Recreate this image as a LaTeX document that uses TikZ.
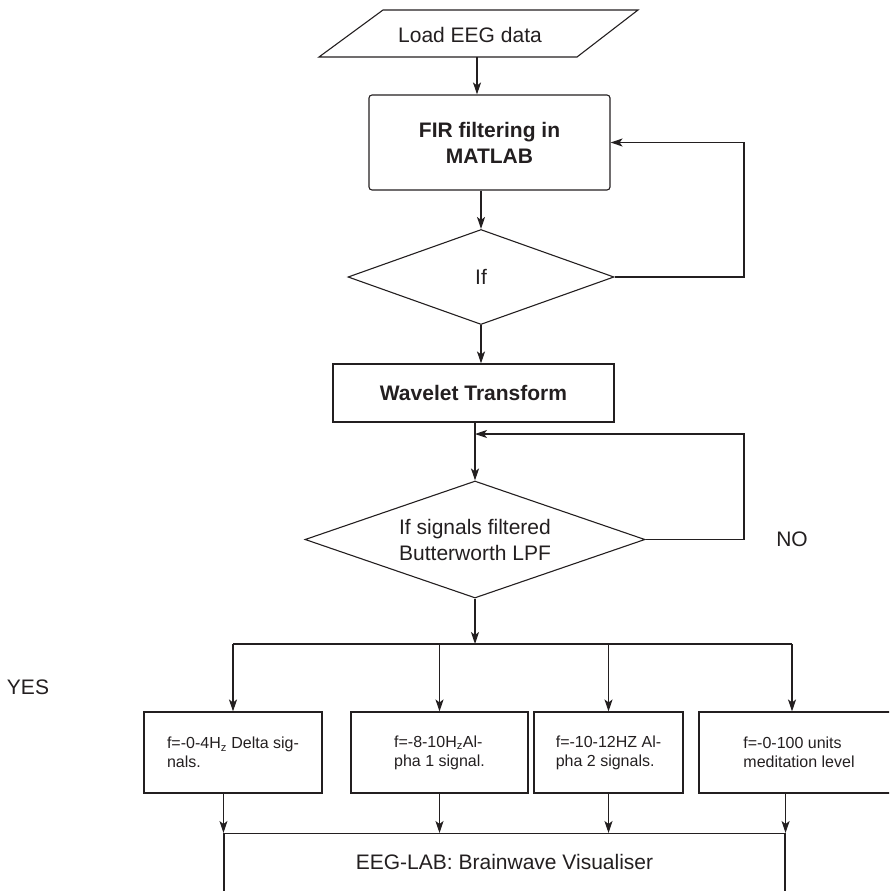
\documentclass[tikz,border=0pt]{standalone}
\usepackage{fontspec}
\setmainfont{Liberation Sans}
\usetikzlibrary{arrows.meta,shapes.geometric}
\definecolor{ink}{HTML}{231F20}
\begin{document}
\begin{tikzpicture}[x=1pt,y=-1pt,
  line/.style={line width=1.1pt,draw=ink},
  arr/.style={line,-{Stealth[length=12pt,width=8pt,inset=3pt]}},
  box/.style={line,rectangle,inner sep=0pt},
  dia/.style={line,diamond,inner sep=0pt},
  big/.style={font=\fontsize{21}{26}\selectfont,text=ink},
  bigb/.style={font=\fontsize{21}{26}\selectfont\bfseries,text=ink},
  small/.style={font=\fontsize{16}{19}\selectfont,align=left,text=ink},
]
\useasboundingbox (0,0) rectangle (889,891);
\clip (0,0) rectangle (889,891);

% input parallelogram
\draw[line] (383,10) -- (638,10) -- (577,57) -- (319,57) -- cycle;
\node[big] (load) at (470,35) {Load EEG data};
\coordinate (loadb) at (477,57);

\node[box,rounded corners=3pt,minimum width=241pt,minimum height=95pt,bigb,align=center] (fir) at (489.5,142.5) {FIR filtering in\\MATLAB};
\node[dia,minimum width=266pt,minimum height=95pt,aspect=2.8,big] (if1) at (481,277) {If};
\node[box,minimum width=281pt,minimum height=58pt,bigb] (wave) at (473.5,393) {Wavelet Transform};
\node[dia,minimum width=340pt,minimum height=117pt,aspect=2.9,big,align=center] (if2) at (475,539.5) {If signals filtered\\Butterworth LPF};

\node[big] (no) at (792,539) {NO};
\node[big] (yes) at (28,687) {YES};

\node[box,minimum width=178pt,minimum height=81pt,small] (b1) at (233,752.5) {f=-0-4H\textsubscript{z} Delta sig-\\nals.};
\node[box,minimum width=177pt,minimum height=81pt,small] (b2) at (439.5,752.5) {f=-8-10H\textsubscript{z}Al-\\pha 1 signal.};
\node[box,minimum width=149pt,minimum height=81pt,small] (b3) at (608.5,752.5) {f=-10-12HZ Al-\\pha 2 signals.};
\node[box,minimum width=200pt,minimum height=81pt,small] (b4) at (799,752.5) {f=-0-100 units\\meditation level};

\node[box,minimum width=561pt,minimum height=80pt,anchor=north] (eeg) at (504.5,833) {};
\node[big] (eegt) at (504.5,862) {EEG-LAB: Brainwave Visualiser};

\coordinate (rx) at (744,0);
\coordinate (j2) at (475,434);
\coordinate (split) at (475,644);
\coordinate (hL) at (233,644);
\coordinate (hR) at (792,644);

\draw[arr] (loadb) -- (loadb |- fir.north);
\draw[arr] (if1.north |- fir.south) -- (if1.north);
\draw[arr] (if1.east) -- (if1.east -| rx) |- (fir.east);
\draw[arr] (if1.south) -- (if1.south |- wave.north);
\draw[arr] (if2.north |- wave.south) -- (if2.north);
\draw[arr] (if2.east) -- (if2.east -| rx) |- (j2);
\draw[arr] (if2.south) -- (split);
\draw[line] (hL) -- (hR);
\draw[arr] (hL) -- (b1.north);
\draw[arr] (b2.north |- hL) -- (b2.north);
\draw[arr] (b3.north |- hL) -- (b3.north);
\draw[arr] (hR) -- (hR |- b4.north);
\draw[arr] (b1.south -| eeg.north west) -- (eeg.north west);
\draw[arr] (b2.south) -- (b2.south |- eeg.north);
\draw[arr] (b3.south) -- (b3.south |- eeg.north);
\draw[arr] (b4.south -| eeg.north east) -- (eeg.north east);
\end{tikzpicture}
\end{document}
